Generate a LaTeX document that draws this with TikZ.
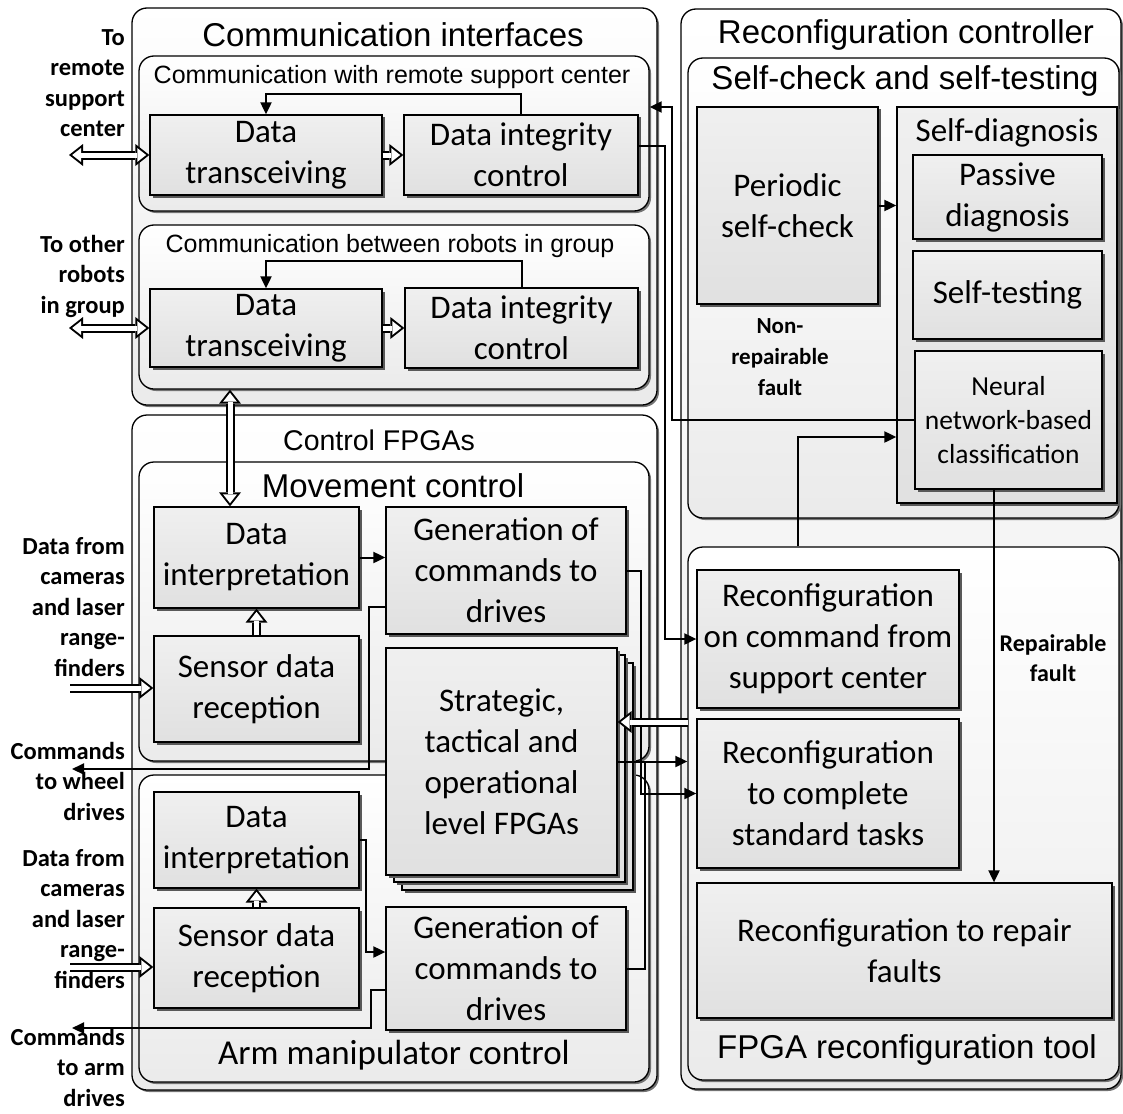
\documentclass[tikz,border=0pt]{standalone}
\usepackage{fontspec}
\setmainfont{Carlito}
\newfontfamily\arialfont{Liberation Sans}
\usetikzlibrary{arrows.meta,shadows}

\tikzset{
  cont/.style={draw=black, line width=1.3pt, rounded corners=15pt, top color=white, bottom color=black!8,
    drop shadow={shadow xshift=2pt, shadow yshift=-2pt, fill=black!55, opacity=1}, inner sep=0pt},
  blk/.style={draw=black, line width=1.3pt, top color=black!6, bottom color=black!12,
    drop shadow={shadow xshift=2.5pt, shadow yshift=-2.5pt, fill=black!65, opacity=1},
    inner sep=0pt, align=center, font=\fontsize{33}{41}\selectfont},
  bigttl/.style={font=\arialfont\fontsize{33}{40}\selectfont},
  smallttl/.style={font=\arialfont\fontsize{25}{30}\selectfont},
  side/.style={font=\bfseries\fontsize{24.5}{30.5}\selectfont, align=right, anchor=east, inner sep=0pt},
  fault/.style={font=\bfseries\fontsize{23}{31}\selectfont, align=center, inner sep=0pt},
  arr/.style={line width=2pt, -{Triangle[length=12pt,width=11pt]}},
  % hollow arrows: white shaft and tip over a black one
  hol/.style={draw=white, line width=5pt, -{Triangle[length=8.8pt,width=13.8pt,line width=0pt]}, shorten >=3.2pt,
    preaction={draw=black, line width=9pt, -{Triangle[length=14pt,width=22pt,line width=0pt]}, shorten >=0pt}},
  hol2/.style={draw=white, line width=5pt, {Triangle[length=8.8pt,width=13.8pt,line width=0pt]}-{Triangle[length=8.8pt,width=13.8pt,line width=0pt]},
    shorten >=3.2pt, shorten <=3.2pt,
    preaction={draw=black, line width=9pt, {Triangle[length=14pt,width=22pt,line width=0pt]}-{Triangle[length=14pt,width=22pt,line width=0pt]},
      shorten >=0pt, shorten <=0pt}},
}

\begin{document}
\begin{tikzpicture}[x=1pt,y=-1pt]
\path[use as bounding box, fill=white] (0,0) rectangle (1123,1113);

% Containers
\node[cont, minimum width=525pt, minimum height=397pt] (ci) at (394.5,206.5) {};
\node[cont, minimum width=510pt, minimum height=155pt] (crs) at (394,133.5) {};
\node[cont, minimum width=510pt, minimum height=164pt] (crb) at (394,307) {};
\node[cont, minimum width=525pt, minimum height=675pt] (cf) at (394.5,752.5) {};
\node[cont, minimum width=510pt, minimum height=299pt] (mc) at (394,611.5) {};
\node[cont, minimum width=510pt, minimum height=307pt] (am) at (394,928.5) {};
\node[cont, minimum width=440pt, minimum height=1080pt] (rc) at (901,549) {};
\node[cont, minimum width=431pt, minimum height=460pt] (sc) at (903.5,288) {};
\node[cont, minimum width=431pt, minimum height=533pt] (ft) at (903.5,813.5) {};

% Container titles
\node[bigttl] (tci) at (393,35) {Communication interfaces};
\node[smallttl] (tcrs) at (392,77) {Communication with remote support center};
\node[smallttl] (tcrb) at (390,246) {Communication between robots in group};
\node[font=\arialfont\fontsize{28.5}{34}\selectfont] (tcf) at (379,440) {Control FPGAs};
\node[bigttl] (tmc) at (393,486) {Movement control};
\node[font=\fontsize{35}{42}\selectfont] (tam) at (394,1055) {Arm manipulator control};
\node[bigttl] (trc) at (906,35) {Reconfiguration controller};
\node[bigttl] (tsc) at (905,81) {Self-check and self-testing};
\node[bigttl] (tft) at (907,1050) {FPGA reconfiguration tool};

% Blocks, left side
\node[blk, minimum width=232pt, minimum height=80pt] (tr1) at (266,155) {Data\\transceiving};
\node[blk, minimum width=234pt, minimum height=80pt] (ic1) at (521,155) {Data integrity\\control};
\node[blk, minimum width=232pt, minimum height=78pt] (tr2) at (266,328) {Data\\transceiving};
\node[blk, minimum width=233pt, minimum height=80pt] (ic2) at (521.5,328) {Data integrity\\control};
\node[blk, minimum width=205pt, minimum height=101pt] (dip1) at (256.5,557.5) {Data\\interpretation};
\node[blk, minimum width=205pt, minimum height=106pt] (sdr1) at (256.5,689) {Sensor data\\reception};
\node[blk, minimum width=240pt, minimum height=127pt] (gen1) at (506,570.5) {Generation of\\commands to\\drives};
\node[blk, minimum width=231pt, minimum height=227pt] (stk3) at (517.5,776.5) {};
\node[blk, minimum width=231pt, minimum height=227pt] (stk2) at (509.5,768.5) {};
\node[blk, minimum width=231pt, minimum height=227pt] (stk) at (501.5,761.5) {Strategic,\\tactical and\\operational\\level FPGAs};
\node[blk, minimum width=205pt, minimum height=96pt] (dip2) at (256.5,840) {Data\\interpretation};
\node[blk, minimum width=205pt, minimum height=100pt] (sdr2) at (256.5,958) {Sensor data\\reception};
\node[blk, minimum width=240pt, minimum height=123pt] (gen2) at (506,968.5) {Generation of\\commands to\\drives};

% Blocks, right side
\node[blk, minimum width=181pt, minimum height=197pt] (psc) at (787.5,205.5) {Periodic\\self-check};
\node[blk, minimum width=220pt, minimum height=396pt] (sd) at (1007,305) {};
\node[font=\fontsize{33}{40}\selectfont] (tsd) at (1007,133) {Self-diagnosis};
\node[blk, minimum width=189pt, minimum height=84pt] (pd) at (1007.5,197) {Passive\\diagnosis};
\node[blk, minimum width=189pt, minimum height=88pt] (st) at (1007.5,295) {Self-testing};
\node[blk, minimum width=187pt, minimum height=138pt, font=\fontsize{27.5}{34}\selectfont] (nn) at (1008.5,420) {Neural\\network-based\\classification};
\node[blk, minimum width=262pt, minimum height=138pt] (ra) at (828,639) {Reconfiguration\\on command from\\support center};
\node[blk, minimum width=262pt, minimum height=149pt] (rb) at (828,793.5) {Reconfiguration\\to complete\\standard tasks};
\node[blk, minimum width=415pt, minimum height=135pt] (rf) at (904.5,950.5) {Reconfiguration to repair\\faults};

% Side labels
\node[side] (lrs) at (125,83) {To\\remote\\support\\center};
\node[side] (lrb) at (125,276) {To other\\robots\\in group};
\node[side] (lcam1) at (125,607) {Data from\\cameras\\and laser\\range-\\finders};
\node[side] (lwh) at (125,781) {Commands\\to wheel\\drives};
\node[side] (lcam2) at (125,919) {Data from\\cameras\\and laser\\range-\\finders};
\node[side] (larm) at (125,1067) {Commands\\to arm\\drives};
\node[fault] (lnr) at (780,357) {Non-\\repairable\\fault};
\node[fault, font=\bfseries\fontsize{24}{30}\selectfont] (lrf) at (1053,658) {Repairable\\fault};

% Free ends
\coordinate (ers) at (69,155);
\coordinate (erb) at (69,328);
\coordinate (ecam1) at (70,688);
\coordinate (ewh) at (72,769);
\coordinate (ecam2) at (70,967);
\coordinate (earm) at (72,1028);
\coordinate (eft) at (688,722);

% Connectors
\draw[arr] (ic1.north) -- ++(0,-20) -| (tr1.north);
\draw[arr] (ic2.north) -- ++(0,-26) -| (tr2.north);
\draw[hol] (tr1.east) -- (ic1.west);
\draw[hol] (tr2.east) -- (ic2.west);
\draw[hol2] (ers) -- (tr1.west);
\draw[hol2] (erb) -- (tr2.west);
\draw[hol2] ([xshift=-26.5pt]dip1.north |- crb.south) -- ([xshift=-26.5pt]dip1.north);
\draw[hol] (sdr1.north) -- (dip1.south);
\draw[hol] (sdr2.north) -- (dip2.south);
\draw[hol] (ecam1) -- (ecam1 -| sdr1.west);
\draw[hol] (ecam2) -- (ecam2 -| sdr2.west);
\draw[arr] (dip1.east) -- (dip1.east -| gen1.west);
\draw[arr] ([yshift=-36.5pt]gen1.west) -- ++(-16,0) |- (ewh);
\draw[arr] (dip2.east) -- ++(6,0) |- ([yshift=16.5pt]gen2.west);
\draw[arr] ([yshift=-21.5pt]gen2.west) -- ++(-14,0) |- (earm);
\draw[arr] (stk.east) -- (stk.east -| ft.west);
\draw[line width=2pt] (gen2.east) -| ([xshift=27pt]stk.east);
\draw[arr] (gen1.east) -- ++(14,0) |- (rb.west);
\draw[hol] (eft) -- (eft -| stk.east);
\draw[arr] (psc.east) -- (psc.east -| sd.west);
\draw[arr] ([yshift=9pt]ic1.east) -- ++(26,0) |- (ra.west);
\draw[arr] (nn.west) -- ++(-242,0) |- ([yshift=26.5pt]crs.east);
\draw[arr] ([xshift=-105.5pt]ft.north) |- ([yshift=-132pt]sd.west);
\draw[arr] ([xshift=-14.5pt]nn.south) -- ([xshift=-14.5pt]nn.south |- rf.north);

\end{tikzpicture}
\end{document}
